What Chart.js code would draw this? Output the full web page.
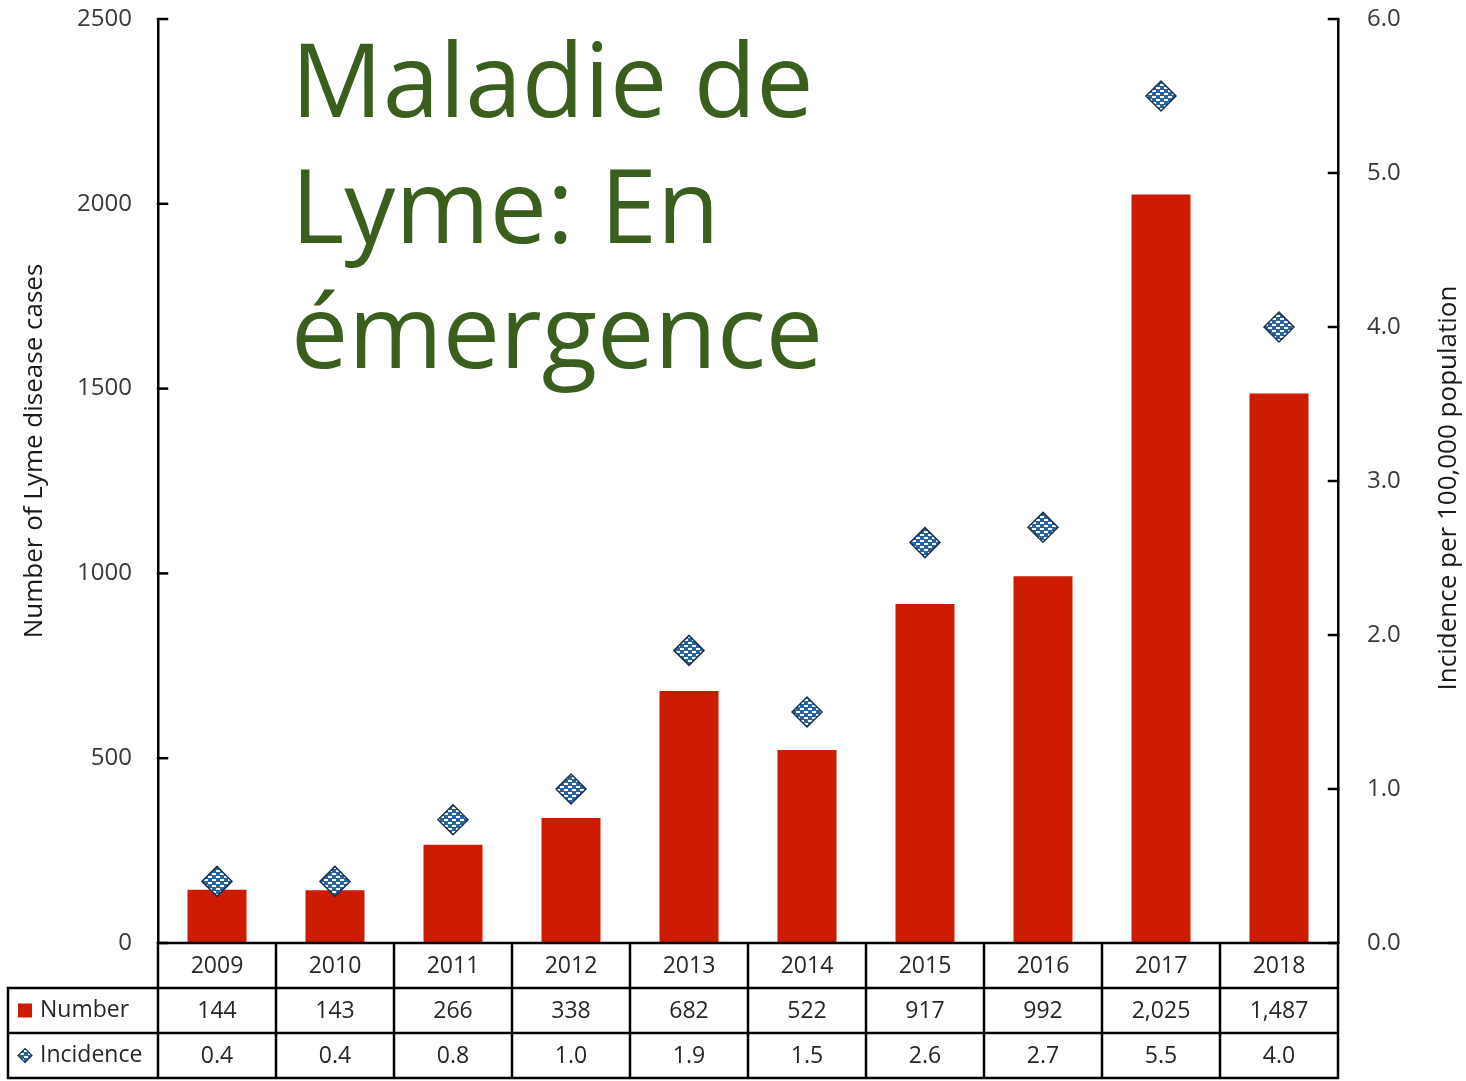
<!DOCTYPE html>
<html>
<head>
<meta charset="utf-8">
<script src="https://cdn.jsdelivr.net/npm/chart.js@4"></script>
<style>
  html, body { margin: 0; padding: 0; background: #ffffff; }
  #wrap { position: relative; width: 1466px; height: 1081px; }
</style>
</head>
<body>
<div id="wrap"><canvas id="lyme_chart" width="1466" height="1081"></canvas></div>
<script>
// data
const years = ['2009', '2010', '2011', '2012', '2013', '2014', '2015', '2016', '2017', '2018'];
const cases = [144, 143, 266, 338, 682, 522, 917, 992, 2025, 1487];
const incidence = [0.4, 0.4, 0.8, 1.0, 1.9, 1.5, 2.6, 2.7, 5.5, 4.0];
const case_ticks = [0, 500, 1000, 1500, 2000, 2500];
const rate_ticks = [0, 1, 2, 3, 4, 5, 6];
const title_lines = ['Maladie de', 'Lyme: En', 'émergence'];

const font_family = '"Open Sans", "Noto Sans", sans-serif';
const bar_red = '#cc1b00';
const title_green = '#3a5e1e';

// checkered blue fill for the diamonds
const make_pattern = function(){
    const c = document.createElement('canvas');
    c.width = 8; c.height = 6;
    const g = c.getContext('2d');
    g.fillStyle = '#2864a0';
    g.fillRect(0, 0, 8, 6);
    g.fillStyle = '#ffffff';
    g.fillRect(0, 0, 4, 2);
    g.fillRect(4, 3, 4, 2);
    return g.createPattern(c, 'repeat');
};
const diamond_fill = make_pattern();

const extras = {
    id: 'extras',
    afterDraw(chart){
        const ctx = chart.ctx;
        const xs = chart.scales.x;
        const y0 = chart.scales.y;
        const y1 = chart.scales.y1;
        const left = chart.chartArea.left;
        const right = chart.chartArea.right;
        const bottom = chart.chartArea.bottom;
        const row_h = 45;
        const step = (right - left) / years.length;

        ctx.save();
        ctx.strokeStyle = '#000000';
        ctx.lineWidth = 2.5;
        ctx.lineCap = 'square';

        // inward tick marks
        case_ticks.forEach(v => {
            const p = y0.getPixelForValue(v);
            ctx.beginPath(); ctx.moveTo(left, p); ctx.lineTo(left + 9, p); ctx.stroke();
        });
        rate_ticks.forEach(v => {
            const p = y1.getPixelForValue(v);
            ctx.beginPath(); ctx.moveTo(right, p); ctx.lineTo(right - 9, p); ctx.stroke();
        });

        // data table grid
        const tbl_left = 8;
        ctx.beginPath();
        ctx.moveTo(left, bottom); ctx.lineTo(right, bottom);
        for (let r = 1; r <= 3; r++) {
            ctx.moveTo(tbl_left, bottom + r * row_h); ctx.lineTo(right, bottom + r * row_h);
        }
        for (let k = 0; k <= years.length; k++) {
            const x = left + k * step;
            ctx.moveTo(x, bottom); ctx.lineTo(x, bottom + 3 * row_h);
        }
        ctx.moveTo(tbl_left, bottom + row_h); ctx.lineTo(tbl_left, bottom + 3 * row_h);
        ctx.stroke();

        // table text
        ctx.font = '23px ' + font_family;
        ctx.fillStyle = '#262626';
        ctx.textAlign = 'center';
        ctx.textBaseline = 'middle';
        years.forEach((yr, i) => {
            const x = xs.getPixelForValue(i);
            ctx.fillText(yr, x, bottom + row_h * 0.5 + 1);
            ctx.fillText(cases[i].toLocaleString('en-US'), x, bottom + row_h * 1.5 + 1);
            ctx.fillText(incidence[i].toFixed(1), x, bottom + row_h * 2.5 + 1);
        });
        ctx.textAlign = 'left';
        ctx.fillText('Number', 40, bottom + row_h * 1.5);
        ctx.fillText('Incidence', 40, bottom + row_h * 2.5);

        // legend keys
        ctx.fillStyle = bar_red;
        ctx.fillRect(18, bottom + row_h * 1.5 - 7, 14, 14);
        const kx = 25, ky = bottom + row_h * 2.5;
        ctx.beginPath();
        ctx.moveTo(kx, ky - 7); ctx.lineTo(kx + 7, ky); ctx.lineTo(kx, ky + 7); ctx.lineTo(kx - 7, ky);
        ctx.closePath();
        ctx.fillStyle = diamond_fill;
        ctx.fill();
        ctx.lineWidth = 1.2;
        ctx.strokeStyle = '#1b3350';
        ctx.stroke();

        // axis titles, both reading bottom to top
        ctx.fillStyle = '#1a1a1a';
        ctx.font = '26px ' + font_family;
        ctx.textAlign = 'center';
        ctx.textBaseline = 'middle';
        ctx.save();
        ctx.translate(35, 451);
        ctx.rotate(-Math.PI / 2);
        ctx.fillText('Number of Lyme disease cases', 0, 0);
        ctx.restore();
        ctx.save();
        ctx.translate(1449, 488);
        ctx.rotate(-Math.PI / 2);
        ctx.fillText('Incidence per 100,000 population', 0, 0);
        ctx.restore();

        // big overlay title
        ctx.fillStyle = title_green;
        ctx.font = '102px ' + font_family;
        ctx.textAlign = 'left';
        ctx.textBaseline = 'alphabetic';
        const baselines = [117, 243, 368];
        title_lines.forEach((line, i) => ctx.fillText(line, 291, baselines[i]));
        ctx.restore();
    }
};

const fit_axis = w => s => { s.width = w; s.paddingTop = 0; s.paddingBottom = 0; };

const config_chart = {
    type: 'bar',
    data: {
        labels: years,
        datasets: [
            {
                type: 'line',
                label: 'Incidence',
                data: incidence,
                yAxisID: 'y1',
                showLine: false,
                pointStyle: 'rectRot',
                pointRadius: 15,
                pointHoverRadius: 15,
                pointBackgroundColor: diamond_fill,
                pointBorderColor: '#1b3350',
                pointBorderWidth: 1.5,
                order: 0
            },
            {
                label: 'Number',
                data: cases,
                yAxisID: 'y',
                backgroundColor: bar_red,
                barPercentage: 0.5,
                categoryPercentage: 1.0,
                order: 1
            }
        ]
    },
    options: {
        responsive: false,
        animation: false,
        layout: {padding: {top: 19, bottom: 138, left: 0, right: 0}},
        plugins: {
            legend: {display: false},
            tooltip: {enabled: false},
            title: {display: false}
        },
        scales: {
            x: {display: false, offset: true},
            y: {
                position: 'left',
                min: 0,
                max: 2500,
                afterFit: fit_axis(158),
                ticks: {
                    stepSize: 500,
                    padding: 26,
                    color: '#383838',
                    font: {family: font_family, size: 24},
                    callback: v => String(v)
                },
                grid: {drawOnChartArea: false, drawTicks: false},
                border: {display: true, color: '#000000', width: 2.5}
            },
            y1: {
                position: 'right',
                min: 0,
                max: 6,
                afterFit: fit_axis(128),
                ticks: {
                    stepSize: 1,
                    padding: 29,
                    color: '#383838',
                    font: {family: font_family, size: 24},
                    callback: v => Number(v).toFixed(1)
                },
                grid: {drawOnChartArea: false, drawTicks: false},
                border: {display: true, color: '#000000', width: 2.5}
            }
        }
    },
    plugins: [extras]
};

const chart_lyme = new Chart(document.getElementById('lyme_chart'), config_chart);
</script>
</body>
</html>
